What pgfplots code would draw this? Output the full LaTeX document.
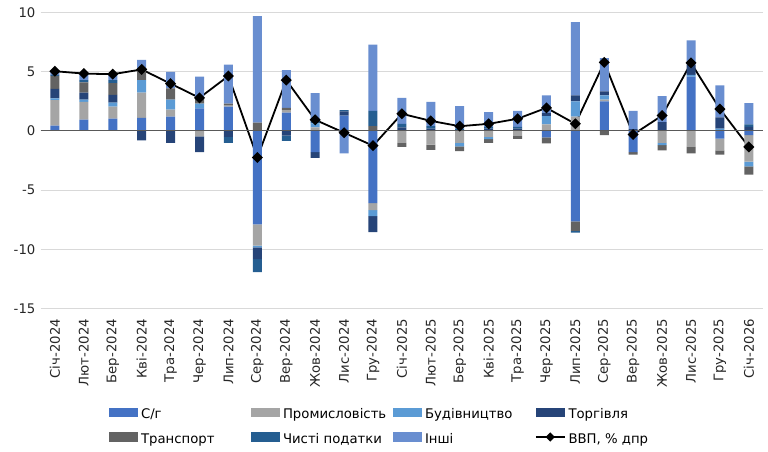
\documentclass[border=0pt]{standalone}
\usepackage{pgfplots}
\pgfplotsset{compat=1.18}
\usepackage{pgfplotstable}
\usepackage{fontspec}
\setmainfont{DejaVu Sans}

\definecolor{cSG}{HTML}{4472C4}
\definecolor{cPROM}{HTML}{A5A5A5}
\definecolor{cBUD}{HTML}{5B9BD5}
\definecolor{cTORG}{HTML}{264478}
\definecolor{cTRANS}{HTML}{636363}
\definecolor{cTAX}{HTML}{255E91}
\definecolor{cOTH}{HTML}{698ED0}
\definecolor{gridgray}{HTML}{D9D9D9}
\definecolor{zerogray}{HTML}{595959}

\pgfplotsset{
  barlegend/.style={legend image code/.code={\fill[##1] (0bp,-3.2bp) rectangle (29bp,6.3bp);}},
  gdplegend/.style={legend image code/.code={\draw[sharp plot, mark repeat=2, mark phase=2, ##1, line width=1.5bp, mark size=2.5bp] plot coordinates {(0bp,1.5bp) (14.5bp,1.5bp) (29bp,1.5bp)};}},
}

\pgfplotstableread{
x  sg     prom   bud    torg   trans  tax    other  gdp
0  0.45   2.15   0.15   0.80   1.10   0.10   0.30   5.05
1  0.95   1.50   0.20   0.60   0.85   0.20   0.55   4.85
2  1.05   1.00   0.35   0.65   1.00   0.25   0.50   4.80
3  1.10   2.15   1.05  -0.80   1.00   0.00   0.70   5.20
4  1.20   0.60   0.85  -1.00   0.95   0.00   1.40   4.00
5  1.90  -0.45   0.40  -1.35   0.40   0.00   1.90   2.80
6  2.05   0.10   0.00  -0.50   0.15  -0.50   3.30   4.65
7 -7.90  -1.80  -0.15  -1.00   0.70  -1.10   9.00  -2.25
8  1.55   0.20   0.00  -0.40   0.20  -0.45   3.20   4.30
9 -1.80   0.30   0.35  -0.48   0.00   0.35   2.20   0.94
10 1.30   0.00   0.00   0.35   0.00   0.10  -1.90  -0.15
11 -6.10 -0.60  -0.50  -1.35   0.40   1.30   5.60  -1.25
12 0.00  -1.00   0.00   0.30  -0.35   0.30   2.20   1.45
13 0.00  -1.15   0.00   0.20  -0.45   0.20   2.05   0.85
14 0.00  -1.00  -0.30   0.00  -0.40   0.20   1.90   0.40
15 0.00  -0.50  -0.20   0.20  -0.30   0.15   1.25   0.60
16 0.00  -0.42   0.00   0.20  -0.25   0.15   1.35   1.03
17 -0.55  0.55   0.70   0.25  -0.50   0.00   1.50   1.95
18 -7.65  1.20   1.30   0.50  -0.80  -0.15   6.20   0.60
19 2.50   0.15   0.35   0.35  -0.35   0.00   2.80   5.80
20 -1.80  0.00   0.00   0.15  -0.20   0.00   1.55  -0.30
21 0.00  -1.00  -0.20   0.75  -0.45   0.00   2.20   1.30
22 4.60  -1.35   0.15   0.85  -0.55   0.00   2.05   5.75
23 -0.65 -1.00   0.20   0.95  -0.35   0.00   2.70   1.85
24 -0.35 -2.25  -0.40   0.35  -0.70   0.20   1.80  -1.35
}\data

\begin{document}
\begin{tikzpicture}
\begin{axis}[
  at={(40.5bp,143.7bp)}, anchor=south west,
  scale only axis, width=722.8bp, height=295.6bp,
  xmin=-0.5, xmax=24.5, ymin=-15, ymax=10,
  ytick={-15,-10,-5,0,5,10},
  xtick={0,...,24},
  xticklabels={Січ-2024,Лют-2024,Бер-2024,Кві-2024,Тра-2024,Чер-2024,Лип-2024,Сер-2024,Вер-2024,Жов-2024,Лис-2024,Гру-2024,Січ-2025,Лют-2025,Бер-2025,Кві-2025,Тра-2025,Чер-2025,Лип-2025,Сер-2025,Вер-2025,Жов-2025,Лис-2025,Гру-2025,Січ-2026},
  ybar stacked, stack negative=separate, bar width=9bp,
  axis line style={draw=none}, major tick length=0pt,
  ymajorgrids, grid style={draw=gridgray, line width=0.9bp},
  /pgf/number format/assume math mode=true,
  tick label style={font=\fontsize{13.3}{16}\selectfont, text=black!85},
  xticklabel style={rotate=90, anchor=east},
  xticklabel shift=7.3bp,
  yticklabel shift=1.6bp,
  legend columns=4,
  legend cell align=left,
  legend style={draw=none, fill=none, at={(0.0948,-0.3356)}, anchor=north west,
    inner sep=0pt, outer sep=0pt, font=\fontsize{13.3}{16}\selectfont,
    /tikz/every odd column/.append style={column sep=3bp},
    row sep=12bp, nodes={inner sep=0pt}},
  barlegend,
]
\draw[zerogray, line width=1.1bp] (axis cs:-0.5,0) -- (axis cs:24.5,0);
\addplot[fill=cSG, draw=none] table[x=x, y=sg] {\data};
\addlegendentry{\makebox[110bp][l]{\strut С/г}}
\addplot[fill=cPROM, draw=none] table[x=x, y=prom] {\data};
\addlegendentry{\makebox[110bp][l]{\strut Промисловість}}
\addplot[fill=cBUD, draw=none] table[x=x, y=bud] {\data};
\addlegendentry{\makebox[110bp][l]{\strut Будівництво}}
\addplot[fill=cTORG, draw=none] table[x=x, y=torg] {\data};
\addlegendentry{\makebox[110bp][l]{\strut Торгівля}}
\addplot[fill=cTRANS, draw=none] table[x=x, y=trans] {\data};
\addlegendentry{\makebox[110bp][l]{\strut Транспорт}}
\addplot[fill=cTAX, draw=none] table[x=x, y=tax] {\data};
\addlegendentry{\makebox[110bp][l]{\strut Чисті податки}}
\addplot[fill=cOTH, draw=none] table[x=x, y=other] {\data};
\addlegendentry{\makebox[110bp][l]{\strut Інші}}
\addplot[stack plots=false, sharp plot, black, line width=1.8bp,
  mark=square*, mark size=3bp, mark options={solid, fill=black, rotate=45},
  gdplegend]
  table[x=x, y=gdp] {\data};
\addlegendentry{\makebox[110bp][l]{\strut ВВП, \% дпр}}
\end{axis}
\pgfresetboundingbox
\useasboundingbox (0,0) rectangle (768bp,452bp);
\end{tikzpicture}
\end{document}
